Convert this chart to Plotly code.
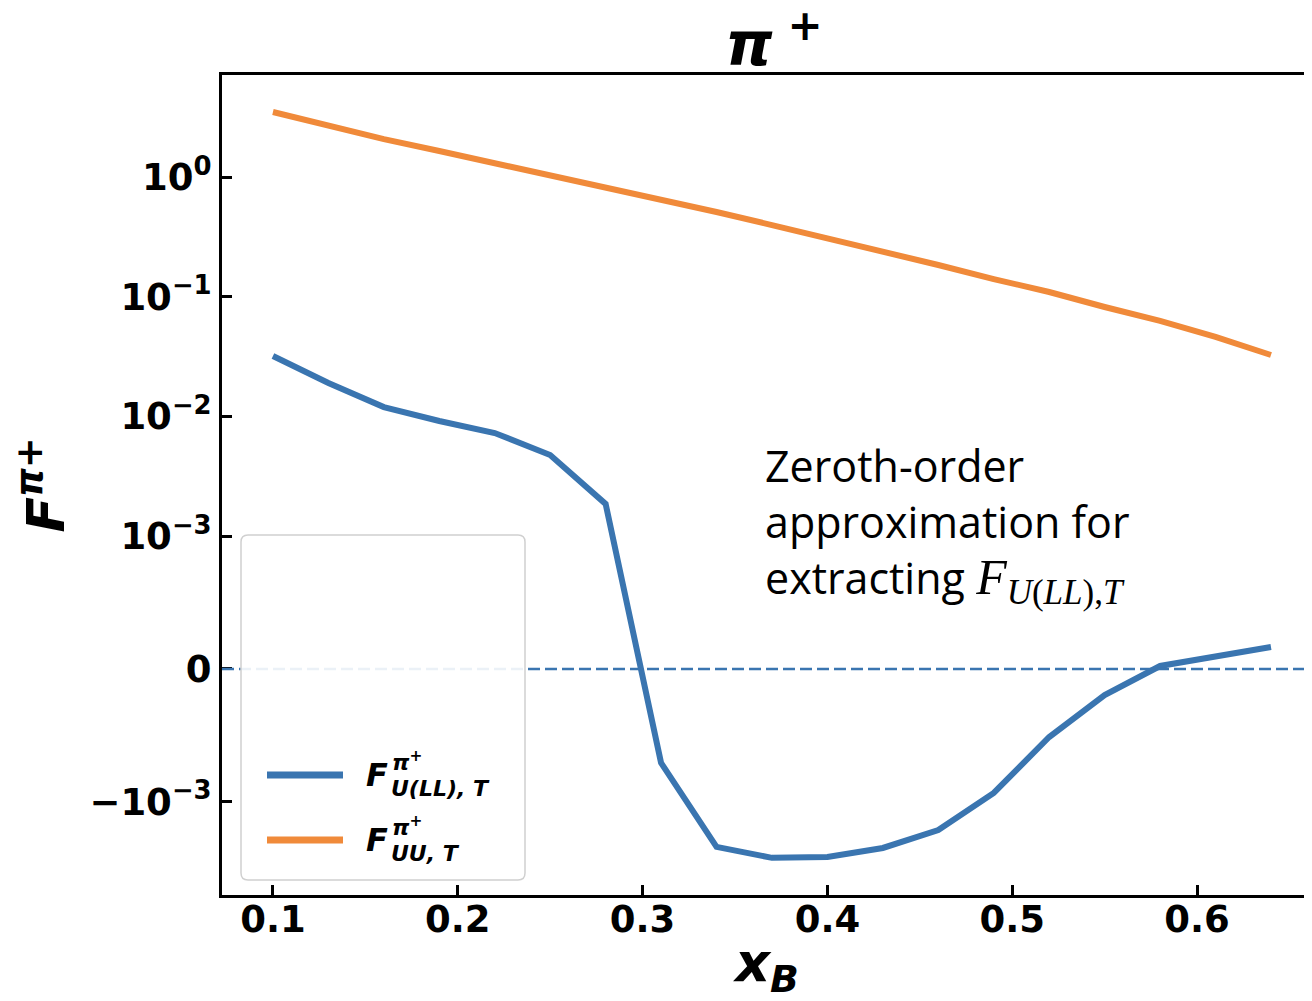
import math
import plotly.graph_objects as go

# ---------------- data ----------------
x_B = [0.10, 0.13, 0.16, 0.19, 0.22, 0.25, 0.28, 0.31, 0.34, 0.37,
       0.40, 0.43, 0.46, 0.49, 0.52, 0.55, 0.58, 0.61, 0.64]
F_ULL_T = [0.0321, 0.0191, 0.0120, 0.00918, 0.00728, 0.00476, 0.00186,
           -0.000707, -0.00238, -0.00294, -0.00289, -0.00243, -0.00172,
           -0.000933, -0.000512, -0.000196, 0.0000226, 0.000098, 0.000166]
F_UU_T = [3.52, 2.69, 2.09, 1.66, 1.32, 1.045, 0.83, 0.659, 0.513, 0.399,
          0.311, 0.238, 0.185, 0.141, 0.110, 0.0824, 0.063, 0.0463, 0.0327]
y_tick_values = [1.0, 0.1, 0.01, 0.001, 0.0, -0.001]
y_tick_labels = ["10<sup>0</sup>", "10<sup>−1</sup>", "10<sup>−2</sup>",
                 "10<sup>−3</sup>", "0", "−10<sup>−3</sup>"]
x_tick_values = [0.1, 0.2, 0.3, 0.4, 0.5, 0.6]

LINTHRESH = 1e-3
LINSCALE = 1.0


def symlog(v):
    adj = LINSCALE / (1.0 - 1.0 / 10.0)
    if abs(v) <= LINTHRESH:
        return v / LINTHRESH * adj
    s = 1 if v > 0 else -1
    return s * (adj + math.log10(abs(v) / LINTHRESH))


BLUE = "#3a75b0"
ORANGE = "#f08a3a"

OFF = 8  # page body margin
W, H = 1312 - OFF, 1001 - OFF
L, R, T = 222 - OFF, 0, 75 - OFF
B = H - (895 - OFF)
PW, PH = W - L - R, H - T - B


def px(xp):
    return (xp - OFF - L) / PW


def py(yp):
    return (H - B - (yp - OFF)) / PH


fig = go.Figure()
fig.add_trace(go.Scatter(x=x_B, y=[symlog(v) for v in F_ULL_T], mode="lines",
                         line=dict(color=BLUE, width=6), showlegend=False,
                         name="F_U(LL),T"))
fig.add_trace(go.Scatter(x=x_B, y=[symlog(v) for v in F_UU_T], mode="lines",
                         line=dict(color=ORANGE, width=6), showlegend=False,
                         name="F_UU,T"))

shapes = []
shapes.append(dict(type="line", xref="paper", x0=0, x1=1, yref="y",
                   y0=0, y1=0, line=dict(color=BLUE, width=2.5, dash="12px,5px"),
                   layer="above"))

# legend box (rounded rect)
x0, x1, y0, y1 = px(241), px(525), py(880), py(535)
rx, ry = 7 / PW, 7 / PH
path = (f"M {x0+rx},{y0} L {x1-rx},{y0} Q {x1},{y0} {x1},{y0+ry} "
        f"L {x1},{y1-ry} Q {x1},{y1} {x1-rx},{y1} L {x0+rx},{y1} "
        f"Q {x0},{y1} {x0},{y1-ry} L {x0},{y0+ry} Q {x0},{y0} {x0+rx},{y0} Z")
shapes.append(dict(type="path", xref="paper", yref="paper", path=path,
                   fillcolor="rgba(255,255,255,0.9)",
                   line=dict(color="#d0d0d0", width=1.5), layer="above"))
shapes.append(dict(type="line", xref="paper", yref="paper",
                   x0=px(267), x1=px(343), y0=py(775), y1=py(775),
                   line=dict(color=BLUE, width=7), layer="above"))
shapes.append(dict(type="line", xref="paper", yref="paper",
                   x0=px(267), x1=px(343), y0=py(840), y1=py(840),
                   line=dict(color=ORANGE, width=7), layer="above"))

annotations = []
BI = "DejaVu Sans"


def leg_label(ycen, sub):
    annotations.append(dict(xref="paper", yref="paper", x=px(364), y=py(ycen),
                            xanchor="left", yanchor="middle", showarrow=False,
                            text="<b><i>F</i></b>",
                            font=dict(family=BI, size=32, color="black")))
    annotations.append(dict(xref="paper", yref="paper", x=px(390), y=py(ycen - 14),
                            xanchor="left", yanchor="middle", showarrow=False,
                            text="<b><i>π</i></b><sup><b>+</b></sup>",
                            font=dict(family=BI, size=22, color="black")))
    annotations.append(dict(xref="paper", yref="paper", x=px(389), y=py(ycen + 13),
                            xanchor="left", yanchor="middle", showarrow=False,
                            text=f"<b><i>{sub}</i></b>",
                            font=dict(family=BI, size=22, color="black")))


leg_label(775, "U(LL), T")
leg_label(840, "UU, T")

# text annotation
annotations.append(dict(
    xref="paper", yref="paper", x=px(763), y=py(434), xanchor="left",
    yanchor="top", align="left", showarrow=False,
    text=("Zeroth-order<br>approximation for<br>extracting "
          "<span style='font-family:Liberation Serif;font-size:50px'><i>F</i>"
          "<sub><i>U</i>(<i>LL</i>),<i>T</i></sub></span>"),
    font=dict(family="Open Sans", size=43, color="black")))

fig.update_layout(
    width=W, height=H,
    margin=dict(l=L, r=R, t=T, b=B, pad=0, autoexpand=False),
    plot_bgcolor="white", paper_bgcolor="white",
    title=dict(text="<b><i>π</i></b><sup><b> +</b></sup>", xref="paper",
               x=px(774), xanchor="center", yref="container",
               y=1 - (44 - OFF) / H, yanchor="middle",
               font=dict(family=BI, size=60, color="black")),
    shapes=shapes, annotations=annotations,
    xaxis=dict(range=[0.07243, 0.6622], tickvals=x_tick_values,
               ticktext=[f"<b>{v:.1f}</b>" for v in x_tick_values],
               ticks="inside", ticklen=10, tickwidth=3, tickcolor="black",
               showline=True, linecolor="black", linewidth=3, mirror=True,
               showgrid=False, zeroline=False, ticklabelstandoff=-10,
               automargin=False,
               tickfont=dict(family=BI, size=37, color="black"),
               title=dict(text="<b><i>x<sub>B</sub></i></b>", standoff=40,
                          font=dict(family=BI, size=54, color="black"))),
    yaxis=dict(range=[-1.89, 4.967],
               tickvals=[symlog(v) for v in y_tick_values],
               ticktext=[f"<b>{t}</b>" for t in y_tick_labels],
               ticks="inside", ticklen=10, tickwidth=3, tickcolor="black",
               showline=True, linecolor="black", linewidth=3, mirror=False,
               showgrid=False, zeroline=False, automargin=False,
               tickfont=dict(family=BI, size=37, color="black"),
               title=dict(text="<b><i>F<sup>π+</sup></i></b>", standoff=18,
                          font=dict(family=BI, size=52, color="black"))),
)

fig.write_html("out.html")
